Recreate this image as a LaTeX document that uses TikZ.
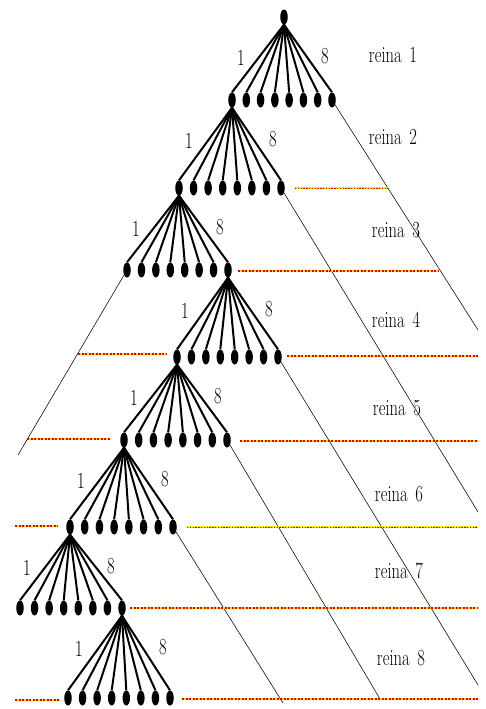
\documentclass[tikz,border=0pt]{standalone}
\usetikzlibrary{shapes.geometric}
\begin{document}
\begin{tikzpicture}[x=1pt,y=-1pt,
  leaf/.style={ellipse, fill=black, inner sep=0pt, minimum width=7.5pt, minimum height=15pt},
  branch/.style={line width=2pt},
  guide/.style={line width=0.55pt},
  lbl/.style={font=\fontsize{23}{23}\selectfont, xscale=0.72, inner sep=0pt},
  queenline/.style={draw=yellow!85!orange, line width=1.6pt,
    postaction={draw=red!85!black, line width=1.6pt, dash pattern=on 2.4pt off 1.1pt}},
  queenlight/.style={draw=yellow!90!orange, line width=1.6pt,
    postaction={draw=red!80!black, line width=1pt, dash pattern=on 1.3pt off 1.5pt}}]
\useasboundingbox (0,0) rectangle (485,709);

% one level of the search tree: name, parent node, row y, first x, last x
\newcommand\queentree[5]{%
  \foreach \i in {1,...,8} {
    \node[leaf] (#1c\i) at ({#4+(\i-1)*(#5-#4)/7},#3) {};
    \draw[branch] (#2.south) -- (#1c\i.north);
  }
  \node[lbl] (#1one) at ([shift={(-43,41)}]#2) {1};
  \node[lbl] (#1eight) at ([shift={(41,39)}]#2) {8};
}

\node[leaf] (root) at (284,17) {};
\queentree{ta}{root}{100}{232}{332}
\queentree{tb}{tac1}{188}{179}{281}
\queentree{tc}{tbc1}{270}{127}{228}
\queentree{td}{tcc8}{357}{177}{278}
\queentree{te}{tdc1}{440}{124}{227}
\queentree{tf}{tec1}{527}{70}{173}
\queentree{tg}{tfc1}{608}{20}{122}
\queentree{th}{tgc8}{698}{68}{170}

% level labels
\node[lbl] (q1) at (393,55) {reina\, 1};
\node[lbl] (q2) at (393,137) {reina\, 2};
\node[lbl] (q3) at (396,230) {reina\, 3};
\node[lbl] (q4) at (396,320) {reina\, 4};
\node[lbl] (q5) at (397,408) {reina\, 5};
\node[lbl] (q6) at (399,494) {reina\, 6};
\node[lbl] (q7) at (399,571) {reina\, 7};
\node[lbl] (q8) at (401,658) {reina\, 8};

% pruned subtrees
\coordinate (ga) at (478,330);
\coordinate (gb) at (478,512);
\coordinate (gc) at (18,455);
\coordinate (gd) at (478,685);
\coordinate (ge) at (380,699);
\coordinate (gf) at (283,703);
\draw[guide] (tac8) -- (ga);
\draw[guide] (tbc8) -- (gb);
\draw[guide] (tcc1) -- (gc);
\draw[guide] (tdc8) -- (gd);
\draw[guide] (tec8) -- (ge);
\draw[guide] (tfc8) -- (gf);

% dashed level markers
\coordinate (da1) at (295,188); \coordinate (da2) at (388,188);
\coordinate (db1) at (238,271); \coordinate (db2) at (438,271);
\coordinate (dc1) at (78,354);  \coordinate (dc2) at (166,354);
\coordinate (dd1) at (287,356); \coordinate (dd2) at (478,356);
\coordinate (de1) at (27,439);  \coordinate (de2) at (110,439);
\coordinate (df1) at (240,441); \coordinate (df2) at (478,441);
\coordinate (dg1) at (15,526);  \coordinate (dg2) at (58,526);
\coordinate (dh1) at (187,527); \coordinate (dh2) at (478,527);
\coordinate (di1) at (130,608); \coordinate (di2) at (478,608);
\coordinate (dj1) at (15,700);  \coordinate (dj2) at (60,700);
\coordinate (dk1) at (182,699); \coordinate (dk2) at (478,699);
\draw[queenlight] (da1) -- (da2);
\draw[queenline] (db1) -- (db2);
\draw[queenline] (dc1) -- (dc2);
\draw[queenline] (dd1) -- (dd2);
\draw[queenline] (de1) -- (de2);
\draw[queenline] (df1) -- (df2);
\draw[queenline] (dg1) -- (dg2);
\draw[queenlight] (dh1) -- (dh2);
\draw[queenline] (di1) -- (di2);
\draw[queenline] (dj1) -- (dj2);
\draw[queenline] (dk1) -- (dk2);
\end{tikzpicture}
\end{document}
